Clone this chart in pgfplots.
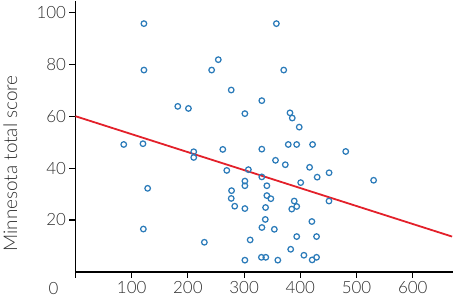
\documentclass[border=0pt]{standalone}
\usepackage{fontspec}
\setmainfont{Lato}[UprightFont=* Light]
\usepackage{pgfplots}
\pgfplotsset{compat=1.18}
\definecolor{ptblue}{HTML}{2B7BB9}
\definecolor{fitred}{HTML}{E3202A}
\definecolor{txtgray}{HTML}{2E2E2E}
\begin{document}
\begin{tikzpicture}
\begin{axis}[
  scale only axis, width=379.5bp, height=272.3bp,
  xmin=0, xmax=672, ymin=0, ymax=104.5,
  axis x line=bottom, axis y line=left,
  axis line style={-, line width=1.6bp, black},
  xtick={0,100,200,300,400,500,600},
  xticklabels={,100,200,300,400,500,600},
  ytick={20,40,60,80,100},
  tick align=outside, major tick length=6bp,
  tick style={line width=1.1bp, black},
  tick label style={font=\fontsize{17bp}{20bp}\selectfont, text=txtgray},
  /pgf/number format/assume math mode=true,
  ylabel={Minnesota total score},
  ylabel style={at={(axis description cs:-0.1726,0.40)}, anchor=center, font=\fontsize{19bp}{22bp}\selectfont, text=txtgray},
  clip=false,
]
\addplot[only marks, mark=o, mark size=2.8bp, mark options={line width=1.25bp, ptblue}] coordinates {
(121.8,95.7) (357.4,95.7) (254.1,81.8) (242.3,77.8) (121.8,77.8) (370.5,77.8)
(277.1,70.1) (182.0,63.8) (201.0,63.0) (331.5,66.0) (301.4,61.0) (381.6,61.3)
(385.7,59.3) (398.1,55.8) (85.9,49.1) (120.1,49.4) (378.6,49.1) (393.5,49.1)
(421.8,49.1) (262.1,47.2) (331.5,47.3) (480.8,46.4) (210.4,46.3) (210.4,44.1)
(355.9,43.0) (373.3,41.3) (416.5,40.3) (451.2,38.2) (269.2,39.1) (307.6,39.4)
(331.5,36.6) (430.0,36.5) (301.4,35.0) (301.4,33.2) (340.5,33.2) (400.7,34.4)
(530.4,35.3) (128.4,32.2) (277.7,31.3) (277.1,28.3) (340.5,29.4) (347.6,28.2)
(389.2,27.3) (451.0,27.3) (283.3,25.3) (301.4,24.4) (338.2,24.8) (384.8,24.2)
(393.6,25.2) (337.7,20.2) (331.7,17.1) (353.8,16.4) (420.6,19.4) (120.8,16.5)
(229.3,11.4) (310.8,12.3) (393.6,13.6) (428.9,13.6) (382.9,8.7) (406.4,6.4)
(330.8,5.6) (338.6,5.6) (428.9,5.6) (301.4,4.5) (360.0,4.5) (421.1,4.6)
};
\addplot[fitred, line width=1.8bp] coordinates {(0,60) (670,13.6)};
\node[anchor=base, font=\fontsize{17bp}{20bp}\selectfont, text=txtgray, xshift=-22bp, yshift=-22.7bp] at (axis cs:0,0) {0};
\end{axis}
\end{tikzpicture}
\end{document}
